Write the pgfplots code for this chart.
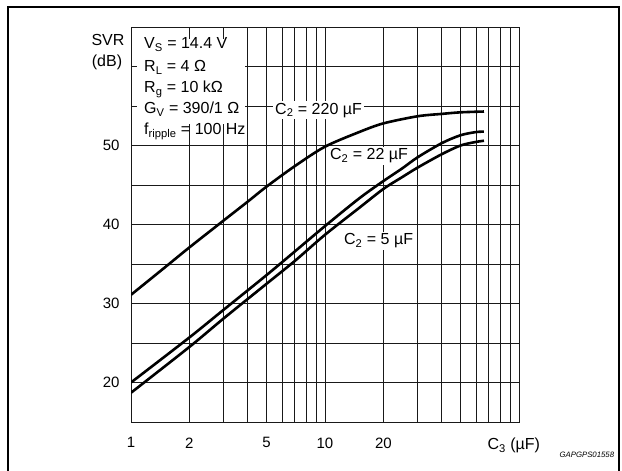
\documentclass[border=0pt]{standalone}
\usepackage{fontspec}
\setmainfont{Liberation Sans}
\usepackage{pgfplots}
\pgfplotsset{compat=1.18}

\newcommand{\lbl}{\fontsize{15}{18}\selectfont}
\newcommand{\txt}{\fontsize{16}{19}\selectfont}

\begin{document}
\begin{tikzpicture}[x=1pt,y=1pt]
\path[use as bounding box] (0,0) rectangle (622,471);

\begin{axis}[
    at={(131pt,49pt)}, anchor=south west,
    scale only axis, width=388pt, height=395pt,
    xmode=log, xmin=1, xmax=100,
    ymin=15, ymax=65,
    xtick={1,2,5,10,20},
    xticklabels={1,2,5,10,20},
    minor xtick={3,4,6,7,8,9,30,40,50,60,70,80,90},
    ytick={20,30,40,50},
    yticklabels={20,30,40,50},
    minor ytick={15,25,35,45,55,60,65},
    major tick length=0pt, minor tick length=0pt,
    grid=both,
    major grid style={black!90, line width=0.9pt},
    minor grid style={black!90, line width=0.9pt},
    axis line style={black!90, line width=0.9pt},
    tick label style={font=\lbl},
    xticklabel style={yshift=-12pt},
    yticklabel style={xshift=-8pt},
]
% curve labels, drawn under the curves
\begin{scope}[every node/.style={font=\txt, anchor=base west, fill=white, inner sep=2pt}]
\node at (rel axis cs:0.366,0.7797) {C\textsubscript{2} = 220 µF};
\node at (rel axis cs:0.5077,0.6633) {C\textsubscript{2} = 22 µF};
\node at (rel axis cs:0.5438,0.4481) {C\textsubscript{2} = 5 µF};
\end{scope}
% C2 = 220 uF
\addplot[black, line width=2.6pt, smooth, tension=0.5] coordinates {
  (1,31.1)(1.5,34.6)(2,37.1)(3,40.5)(4,42.9)(5,44.8)(7,47.4)(10,49.85)
  (15,51.7)(20,52.8)(30,53.7)(40,54.0)(50,54.2)(66,54.3)
};
% C2 = 22 uF
\addplot[black, line width=2.6pt, smooth, tension=0.5] coordinates {
  (1,20.0)(2,25.7)(3,29.2)(5,33.6)(7,36.6)(10,39.8)(15,43.3)(20,45.5)
  (25,47.1)(30,48.5)(40,50.3)(50,51.3)(60,51.7)(66,51.75)
};
% C2 = 5 uF
\addplot[black, line width=2.6pt, smooth, tension=0.5] coordinates {
  (1,18.7)(2,24.5)(3,28.1)(5,32.5)(7,35.4)(10,38.7)(15,42.1)(20,44.5)
  (25,46.0)(30,47.2)(40,48.9)(50,50.0)(60,50.45)(66,50.6)
};
\end{axis}

% outer frame (bottom edge cut off)
\draw[line width=2pt] (8,-5) -- (8,464) -- (619,464) -- (619,-5);

% y label
\node[font=\txt] at (108,431) {SVR};
\node[font=\txt] at (107,409) {(dB)};

% conditions
\fill[white] (137,347) rectangle (245,432);
\begin{scope}[every node/.style={font=\txt, anchor=base west, inner sep=1pt}]
\node at (143,422) {V\textsubscript{S} = 14.4 V};
\node at (143,399) {R\textsubscript{L} = 4 Ω};
\node at (143,378) {R\textsubscript{g} = 10 kΩ};
\node at (143,357) {G\textsubscript{V} = 390/1 Ω};
\node at (143,336) {f\textsubscript{ripple} = 100 Hz};
\end{scope}

% x label
\node[font=\txt, anchor=base west] at (484,21) {C\textsubscript{3} (µF)};
\node[font=\fontsize{7.8}{9}\selectfont\itshape, anchor=base west] at (556,13) {GAPGPS01558};
\end{tikzpicture}
\end{document}
